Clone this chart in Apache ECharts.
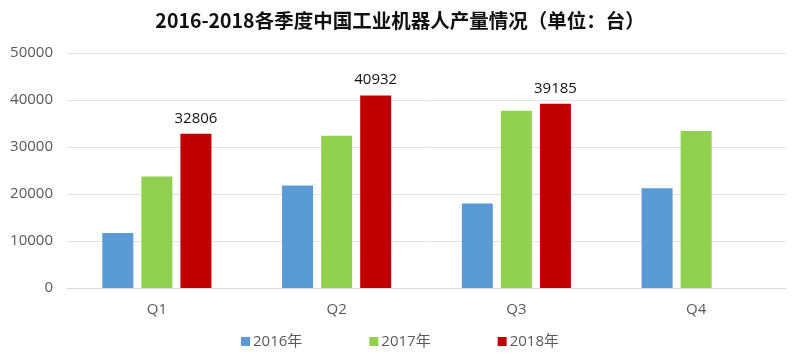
<!DOCTYPE html>
<html>
<head>
<meta charset="utf-8">
<script src="https://cdn.jsdelivr.net/npm/echarts@6/dist/echarts.min.js"></script>
<style>html,body{margin:0;padding:0;background:#fff;}#c{width:800px;height:362px;}</style>
</head>
<body>
<div id="c"></div>
<script>
const categories = ['Q1', 'Q2', 'Q3', 'Q4'];
const seriesNames = ['2016年', '2017年', '2018年'];
const data2016 = [11700, 21800, 18000, 21200];
const data2017 = [23700, 32400, 37700, 33400];
const data2018 = [32806, 40932, 39185, null];
const yTicks = [0, 10000, 20000, 30000, 40000, 50000];

const chart = echarts.init(document.getElementById('c'));
const font = '"Open Sans", "Noto Sans CJK SC", sans-serif';
const colors = ['#5B9BD5', '#92D050', '#C00000'];
const allData = [data2016, data2017, data2018];
chart.setOption({
  animation: false,
  title: {
    text: '2016-2018各季度中国工业机器人产量情况（单位：台）',
    left: 'center', top: 6,
    textStyle: { fontFamily: '"Noto Sans CJK SC", sans-serif', fontWeight: 'bold', fontSize: 19.5, color: '#111' }
  },
  legend: {
    bottom: 8, left: 'center',
    itemWidth: 9, itemHeight: 9, itemGap: 67,
    icon: 'rect',
    textStyle: { fontFamily: font, fontSize: 15, color: '#595959', padding: [0, 0, 0, -2] },
    data: seriesNames
  },
  grid: { left: 67, right: 14, top: 53, bottom: 74, containLabel: false },
  xAxis: {
    type: 'category', data: categories,
    axisLine: { lineStyle: { color: '#d9d9d9' } },
    axisTick: { show: false },
    axisLabel: { fontFamily: font, fontSize: 15, color: '#595959', margin: 14 }
  },
  yAxis: {
    type: 'value', min: yTicks[0], max: yTicks[yTicks.length - 1], interval: 10000,
    axisLine: { show: false }, axisTick: { show: false },
    splitLine: { lineStyle: { color: '#e3e3e3' } },
    axisLabel: { fontFamily: font, fontSize: 15, color: '#595959', margin: 14, formatter: v => String(v) }
  },
  series: seriesNames.map((n, i) => ({
    name: n, type: 'bar', data: allData[i],
    barWidth: 31, barGap: '26%',
    itemStyle: { color: colors[i] },
    label: i === 2 ? { show: true, position: 'top', distance: 8, fontFamily: font, fontSize: 15, color: '#111' } : { show: false }
  }))
});
</script>
</body>
</html>
